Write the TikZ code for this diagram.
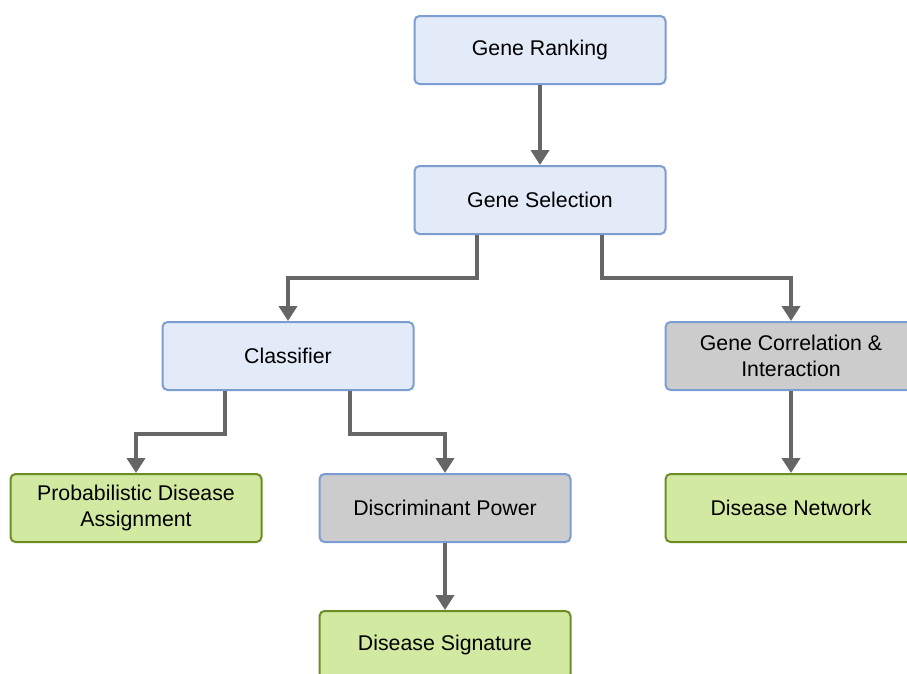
\documentclass[tikz,border=0pt]{standalone}
\usepackage{fontspec}
\setmainfont{Liberation Sans}
\usetikzlibrary{arrows.meta}

\definecolor{bluefill}{HTML}{E3EAF8}
\definecolor{blueline}{HTML}{7C9DD2}
\definecolor{grayfill}{HTML}{CCCCCC}
\definecolor{greenfill}{HTML}{D2E9A2}
\definecolor{greenline}{HTML}{6E8C24}
\definecolor{linkgray}{HTML}{666666}

\tikzset{
  box/.style={rectangle, rounded corners=5pt, line width=2pt,
    minimum width=251pt, minimum height=68pt, inner sep=0pt,
    align=center, font=\fontsize{21.3}{25.5}\selectfont},
  bluebox/.style={box, draw=blueline, fill=bluefill},
  graybox/.style={box, draw=blueline, fill=grayfill},
  greenbox/.style={box, draw=greenline, fill=greenfill},
  link/.style={draw=linkgray, line width=4.5pt,
    -{Triangle[width=18pt,length=15pt]}},
}

\begin{document}
\begin{tikzpicture}[x=1pt, y=-1pt]
\useasboundingbox (0,0) rectangle (907,673);

% boxes
\node[bluebox]  (rank) at (540,50)  {Gene Ranking};
\node[bluebox]  (sel)  at (540,200) {Gene Selection};
\node[bluebox]  (cls)  at (288,356) {Classifier};
\node[graybox]  (corr) at (791,356) {Gene Correlation \&\\Interaction};
\node[greenbox] (prob) at (136,508) {Probabilistic Disease\\Assignment};
\node[graybox]  (disc) at (445,508) {Discriminant Power};
\node[greenbox] (net)  at (791,508) {Disease Network};
\node[greenbox] (sig)  at (445,645) {Disease Signature};

% connectors
\draw[link] (rank) -- (sel);
\draw[link] ([xshift=-63pt]sel.south) -- ++(0,43) -| (cls.north);
\draw[link] ([xshift=62pt]sel.south) -- ++(0,43) -| (corr.north);
\draw[link] ([xshift=-63pt]cls.south) -- ++(0,43) -| (prob.north);
\draw[link] ([xshift=62pt]cls.south) -- ++(0,43) -| (disc.north);
\draw[link] (disc) -- (sig);
\draw[link] (corr) -- (net);
\end{tikzpicture}
\end{document}
